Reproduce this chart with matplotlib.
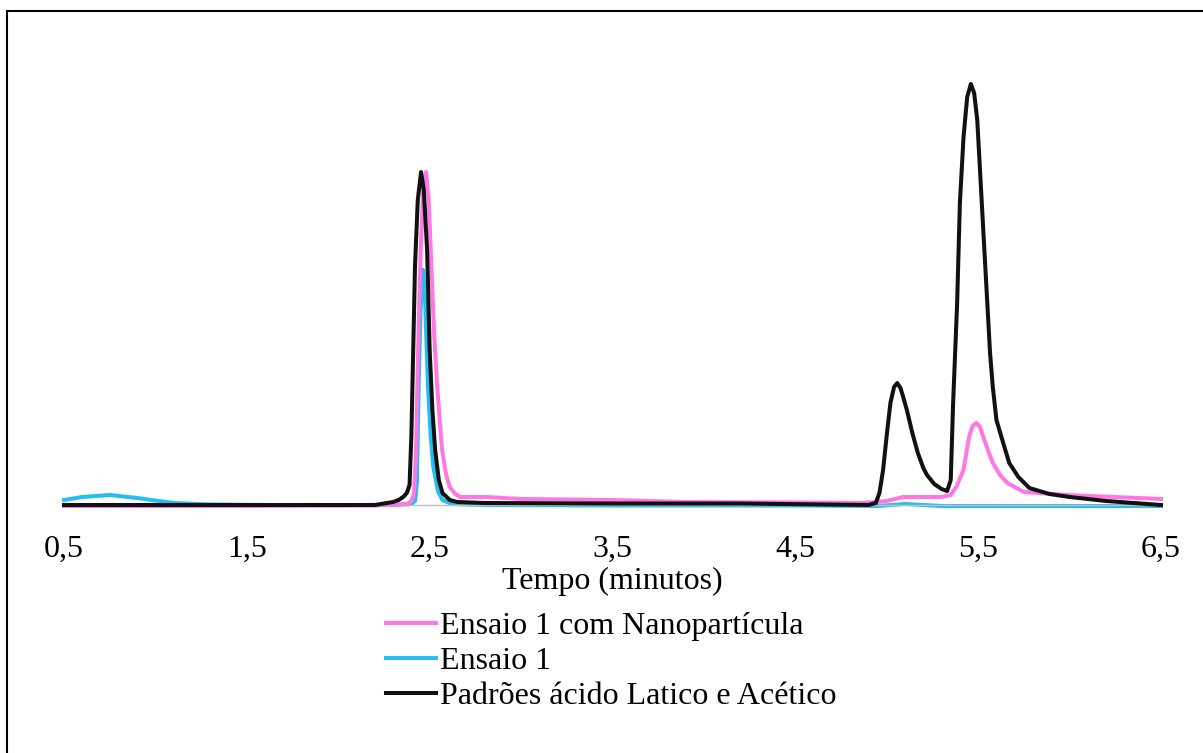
import matplotlib
matplotlib.use('Agg')
from matplotlib import pyplot as plt
from matplotlib.lines import Line2D

# retention time (minutes) / detector signal (arbitrary units)
NANO_T = [0.5, 1.5, 2.2, 2.38, 2.40, 2.415, 2.425, 2.437, 2.45, 2.465, 2.48, 2.495, 2.513,
          2.525, 2.54, 2.555, 2.568, 2.59, 2.61, 2.64, 2.666, 2.81, 3.0, 3.5, 3.9, 4.5,
          4.87, 5.0, 5.09, 5.2, 5.3, 5.35, 5.38, 5.42, 5.45, 5.47, 5.49, 5.51, 5.53, 5.555,
          5.58, 5.62, 5.66, 5.75, 5.99, 6.5]
NANO_V = [-1, -1, -0.5, 1, 4, 12, 50, 155, 250, 315, 333, 305, 222,
          170, 122, 85, 55, 30, 18, 11, 8, 8, 6, 5, 3, 2.5,
          2, 4, 8, 8, 8, 10, 18, 35, 68, 79, 82, 78, 67, 54,
          42, 30, 22, 13, 10, 6]

ENSAIO_T = [0.5, 0.6, 0.75, 0.9, 1.1, 1.3, 1.6, 2.0, 2.3, 2.40, 2.42, 2.43, 2.44, 2.45,
            2.464, 2.475, 2.49, 2.505, 2.52, 2.545, 2.57, 2.62, 2.8, 3.5, 4.5, 4.95, 5.1,
            5.3, 6.0, 6.5]
ENSAIO_V = [5, 8, 10, 7, 2, 0.5, 0, 0, 0, 1, 4, 22, 122, 195,
            235, 205, 122, 70, 38, 14, 5, 1, 0, -0.5, -0.5, -1, 1,
            -1, -1, -1]

PADRAO_T = [0.5, 1.5, 2.2, 2.30, 2.33, 2.355, 2.375, 2.39, 2.40, 2.41, 2.42, 2.435, 2.453,
            2.468, 2.486, 2.50, 2.515, 2.53, 2.55, 2.57, 2.61, 2.65, 2.8, 3.5, 4.2, 4.9,
            4.94, 4.96, 4.98, 5.00, 5.02, 5.04, 5.057, 5.075, 5.09, 5.11, 5.14, 5.17, 5.20,
            5.22, 5.26, 5.30, 5.33, 5.35, 5.363, 5.385, 5.40, 5.42, 5.44, 5.46, 5.478, 5.495,
            5.51, 5.53, 5.55, 5.565, 5.58, 5.60, 5.637, 5.67, 5.72, 5.78, 5.89, 6.0, 6.2,
            6.5]
PADRAO_V = [0, 0, 0, 3, 5, 8, 12, 20, 70, 155, 240, 305, 333,
            315, 255, 155, 95, 55, 25, 12, 5, 3, 2, 1.5, 1.5, 0,
            2, 12, 35, 70, 102, 118, 122, 117, 108, 95, 72, 52, 37,
            30, 21, 16, 14, 25, 102, 202, 302, 368, 408, 421, 412, 385,
            335, 268, 202, 152, 118, 85, 62, 42, 28, 17, 11, 8, 4,
            0]

X_TICKS = [0.5, 1.5, 2.5, 3.5, 4.5, 5.5, 6.5]
X_TICK_LABELS = ['0,5', '1,5', '2,5', '3,5', '4,5', '5,5', '6,5']

plt.rcParams['font.family'] = ['Liberation Serif', 'DejaVu Serif']

fig = plt.figure(figsize=(12.03, 7.53), dpi=100)
ax = fig.add_axes([64 / 1203, 1 - 505 / 753, (1161 - 64) / 1203, 475 / 753])

ax.plot(NANO_T, NANO_V, color='#FF77E3', lw=2.9, label='Ensaio 1 com Nanopartícula',
        clip_on=False, zorder=3, solid_joinstyle='round')
ax.plot(ENSAIO_T, ENSAIO_V, color='#26BEF0', lw=2.9, label='Ensaio 1',
        clip_on=False, zorder=2, solid_joinstyle='round')
ax.plot(PADRAO_T, PADRAO_V, color='#111111', lw=2.9, label='Padrões ácido Latico e Acético',
        clip_on=False, zorder=4, solid_joinstyle='round')

ax.set_xlim(0.5, 6.5)
ax.set_ylim(0, 475)
ax.set_xticks(X_TICKS)
ax.set_xticklabels(X_TICK_LABELS)
ax.set_yticks([])
ax.tick_params(axis='x', length=0, pad=21.5, labelsize=23)
for side in ['top', 'right', 'left']:
    ax.spines[side].set_visible(False)
ax.spines['bottom'].set_color('#C0C0C0')
ax.spines['bottom'].set_linewidth(1.0)
ax.set_xlabel('Tempo (minutos)', fontsize=23, labelpad=2)

fig.legend(loc='upper left', bbox_to_anchor=(386 / 1203, 1 - 612 / 753), frameon=False,
           fontsize=23, handlelength=1.55, handletextpad=0.15, labelspacing=0.17,
           borderpad=0, borderaxespad=0)

# frame of the original figure (only top and left edges visible)
fig.add_artist(Line2D([7 / 1203, 7 / 1203], [0, 1 - 11 / 753], color='black', lw=1.5))
fig.add_artist(Line2D([7 / 1203, 1], [1 - 11 / 753, 1 - 11 / 753], color='black', lw=1.5))

fig.savefig('out.png', dpi=100)
